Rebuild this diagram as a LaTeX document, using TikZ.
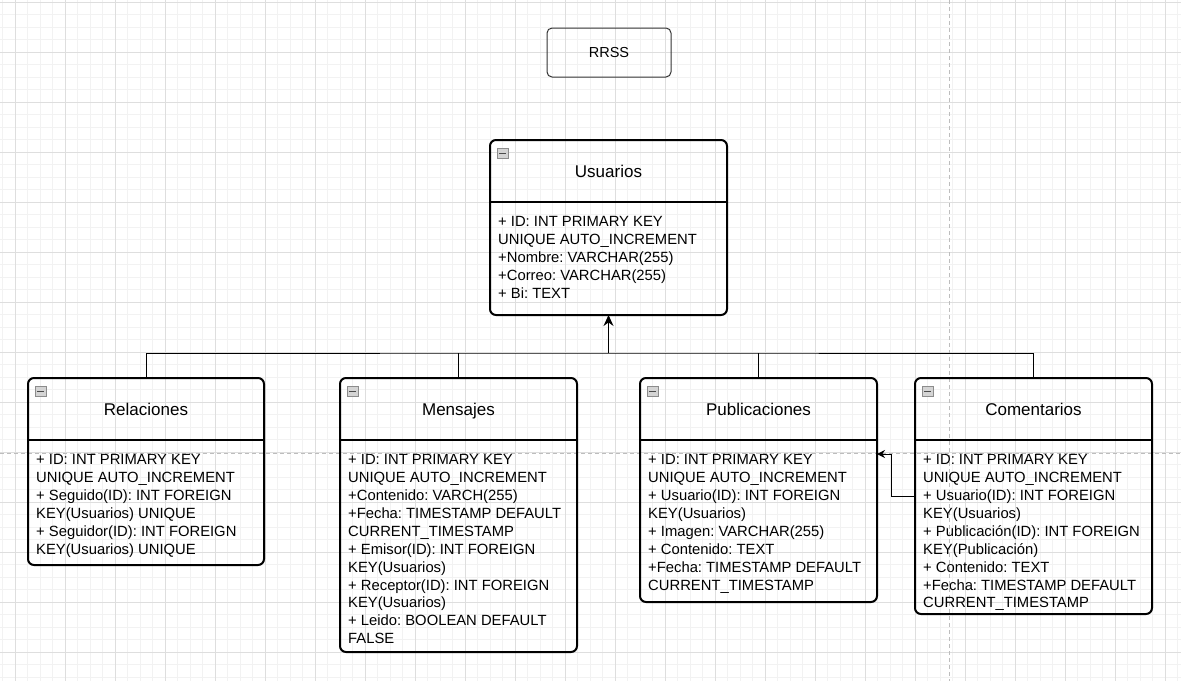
\documentclass[tikz,border=0pt]{standalone}
\usepackage{fontspec}
\setmainfont{Liberation Sans}
\usetikzlibrary{arrows.meta}
\frenchspacing

\definecolor{gridfine}{HTML}{F2F2F2}
\definecolor{gridmajor}{HTML}{DEDEDE}
\definecolor{pagebreak}{HTML}{BDBDBD}
\definecolor{iconfill}{HTML}{D4D4D4}
\definecolor{iconline}{HTML}{8C8C8C}

\tikzset{
  tbl/.style={draw, line width=2pt, rounded corners=6pt, anchor=north west,
    inner sep=0, outer sep=0},
  ttl/.style={anchor=base, inner sep=0, font=\fontsize{17}{20}\selectfont},
  attrs/.style={anchor=north west, inner sep=0, align=left,
    font=\fontsize{14.8}{17.95}\selectfont},
  conn/.style={line width=1pt},
  mini/.style={draw=iconline, fill=iconfill, line width=0.8pt, anchor=north west,
    minimum width=11pt, minimum height=10pt, inner sep=0,
    path picture={\draw[black!70, line width=1.2pt]
      ([xshift=2pt]path picture bounding box.west) --
      ([xshift=-2pt]path picture bounding box.east);}}
}

\begin{document}
\begin{tikzpicture}[x=1pt, y=-1pt]
\useasboundingbox (0,0) rectangle (1181,681);

% grid
\foreach \i in {0,...,94} \draw[gridfine] (2.5+12.5*\i,0) -- (2.5+12.5*\i,681);
\foreach \i in {0,...,54} \draw[gridfine] (0,1.7+12.5*\i) -- (1181,1.7+12.5*\i);
\foreach \i in {0,...,23} \draw[gridmajor] (15+50*\i,0) -- (15+50*\i,681);
\foreach \i in {0,...,13} \draw[gridmajor] (0,1.7+50*\i) -- (1181,1.7+50*\i);
\draw[pagebreak, dash pattern=on 4pt off 3pt] (949,0) -- (949,681);
\draw[pagebreak, dash pattern=on 4pt off 3pt] (0,453.5) -- (1181,453.5);

% title
\node[draw=black!80, line width=1pt, rounded corners=5pt, inner sep=0,
      minimum width=124, minimum height=49, font=\fontsize{14.5}{17}\selectfont]
      (rrss) at (609,52.5) {RRSS};

% Usuarios
\node[tbl, minimum width=237, minimum height=175] (usu) at (490,140) {};
\node[mini] (usui) at ([xshift=7pt,yshift=-8pt]usu.north west) {};
\draw[line width=2pt] ([yshift=-62pt]usu.north west) -- ([yshift=-62pt]usu.north east);
\node[ttl] (usut) at (608.5,177) {Usuarios};
\node[attrs] (usua) at (498,216) {+ ID: INT PRIMARY KEY\\UNIQUE AUTO\_INCREMENT\\+Nombre: VARCHAR(255)\\+Correo: VARCHAR(255)\\+ Bi: TEXT};

% Relaciones
\node[tbl, minimum width=236, minimum height=187] (rel) at (28,378) {};
\node[mini] (reli) at ([xshift=7pt,yshift=-8pt]rel.north west) {};
\draw[line width=2pt] ([yshift=-62pt]rel.north west) -- ([yshift=-62pt]rel.north east);
\node[ttl] (relt) at (146,415) {Relaciones};
\node[attrs] (rela) at (36,454) {+ ID: INT PRIMARY KEY\\UNIQUE AUTO\_INCREMENT\\+ Seguido(ID): INT FOREIGN\\KEY(Usuarios) UNIQUE\\+ Seguidor(ID): INT FOREIGN\\KEY(Usuarios) UNIQUE};

% Mensajes
\node[tbl, minimum width=237, minimum height=274] (men) at (340,378) {};
\node[mini] (meni) at ([xshift=7pt,yshift=-8pt]men.north west) {};
\draw[line width=2pt] ([yshift=-62pt]men.north west) -- ([yshift=-62pt]men.north east);
\node[ttl] (ment) at (458.5,415) {Mensajes};
\node[attrs] (mena) at (348,454) {+ ID: INT PRIMARY KEY\\UNIQUE AUTO\_INCREMENT\\+Contenido: VARCH(255)\\+Fecha: TIMESTAMP DEFAULT\\CURRENT\_TIMESTAMP\\+ Emisor(ID): INT FOREIGN\\KEY(Usuarios)\\+ Receptor(ID): INT FOREIGN\\KEY(Usuarios)\\+ Leido: BOOLEAN DEFAULT\\FALSE};

% Publicaciones
\node[tbl, minimum width=237, minimum height=224] (pub) at (640,378) {};
\node[mini] (pubi) at ([xshift=7pt,yshift=-8pt]pub.north west) {};
\draw[line width=2pt] ([yshift=-62pt]pub.north west) -- ([yshift=-62pt]pub.north east);
\node[ttl] (pubt) at (758.5,415) {Publicaciones};
\node[attrs] (puba) at (648,454) {+ ID: INT PRIMARY KEY\\UNIQUE AUTO\_INCREMENT\\+ Usuario(ID): INT FOREIGN\\KEY(Usuarios)\\+ Imagen: VARCHAR(255)\\+ Contenido: TEXT\\+Fecha: TIMESTAMP DEFAULT\\CURRENT\_TIMESTAMP};

% Comentarios
\node[tbl, minimum width=237, minimum height=236] (com) at (915,378) {};
\node[mini] (comi) at ([xshift=7pt,yshift=-8pt]com.north west) {};
\draw[line width=2pt] ([yshift=-62pt]com.north west) -- ([yshift=-62pt]com.north east);
\node[ttl] (comt) at (1033.5,415) {Comentarios};
\node[attrs] (coma) at (923,454) {+ ID: INT PRIMARY KEY\\UNIQUE AUTO\_INCREMENT\\+ Usuario(ID): INT FOREIGN\\KEY(Usuarios)\\+ Publicación(ID): INT FOREIGN\\KEY(Publicación)\\+ Contenido: TEXT\\+Fecha: TIMESTAMP DEFAULT\\CURRENT\_TIMESTAMP};

% connectors
\coordinate (bus) at (608.5,353);
\coordinate (bend) at (891,454);
\draw[conn] (rel.north) |- (bus) -| (com.north);
\draw[conn] (men.north) -- (men.north |- bus);
\draw[conn] (pub.north) -- (pub.north |- bus);
\draw[conn, -{Stealth[length=11pt, width=10pt]}] (bus) -- (usu.south);
\draw[conn, -{Stealth[length=8pt, width=8pt]}] ([yshift=-118pt]com.north west) -| (bend) -- (pub.east |- bend);

\end{tikzpicture}
\end{document}
